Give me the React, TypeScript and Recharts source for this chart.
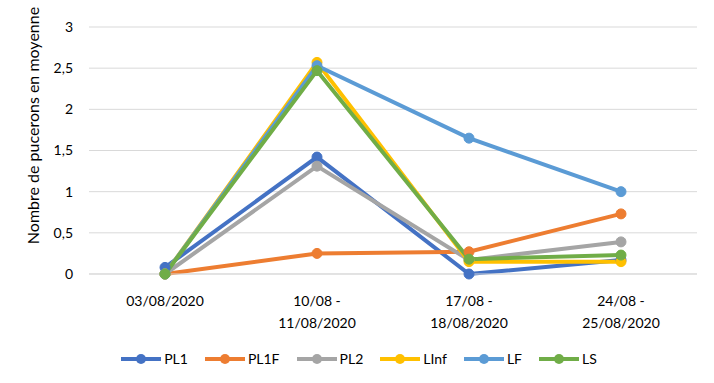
import { LineChart, Line, XAxis, YAxis, CartesianGrid, Legend } from "recharts";

const periods = ["03/08/2020", "10/08 -\n11/08/2020", "17/08 -\n18/08/2020", "24/08 -\n25/08/2020"];

const pl1 = [0.08, 1.42, 0.0, 0.17];
const pl1f = [0.0, 0.25, 0.27, 0.73];
const pl2 = [0.0, 1.31, 0.17, 0.39];
const linf = [0.0, 2.57, 0.15, 0.15];
const lf = [0.0, 2.53, 1.65, 1.0];
const ls = [0.0, 2.47, 0.18, 0.23];

const yTicks = [0, 0.5, 1, 1.5, 2, 2.5, 3];

const series = [
  { key: "PL1", values: pl1, color: "#4472C4" },
  { key: "PL1F", values: pl1f, color: "#ED7D31" },
  { key: "PL2", values: pl2, color: "#A5A5A5" },
  { key: "LInf", values: linf, color: "#FFC000" },
  { key: "LF", values: lf, color: "#5B9BD5" },
  { key: "LS", values: ls, color: "#70AD47" },
];

const data = periods.map((p, i) => {
  const row: Record<string, string | number> = { period: p };
  series.forEach((s) => (row[s.key] = s.values[i]));
  return row;
});

const FONT = "Lato, 'Liberation Sans', sans-serif";

// eslint-disable-next-line @typescript-eslint/no-explicit-any
function PeriodTick({ x, y, payload }: any) {
  const lines = String(payload.value).split("\n");
  return (
    <text x={x} y={y} textAnchor="middle" fontFamily={FONT} fontSize={14} fill="#000">
      {lines.map((l, i) => (
        <tspan key={i} x={x} dy={i === 0 ? 24 : 22}>{l}</tspan>
      ))}
    </text>
  );
}

function LegendContent() {
  return (
    <div style={{ display: "flex", justifyContent: "center", gap: 16, fontFamily: FONT, fontSize: 14, color: "#000", paddingLeft: 20 }}>
      {series.map((s) => (
        <div key={s.key} style={{ display: "flex", alignItems: "center" }}>
          <svg width={42} height={12} style={{ marginRight: 2 }}>
            <line x1={1} y1={6} x2={41} y2={6} stroke={s.color} strokeWidth={4} />
            <circle cx={21} cy={6} r={5} fill={s.color} />
          </svg>
          <span>{s.key}</span>
        </div>
      ))}
    </div>
  );
}

export default function App() {
  return (
    <div>
      <style>{"body{margin:0;background:#fff}"}</style>
      <LineChart width={714} height={383} data={data} margin={{ top: 27, right: 17, left: 0, bottom: 0 }}>
        <CartesianGrid vertical={false} stroke="#d9d9d9" strokeWidth={1} />
        <XAxis
          dataKey="period"
          tick={<PeriodTick />}
          tickLine={false}
          axisLine={{ stroke: "#d9d9d9" }}
          height={76}
          interval={0}
          padding={{ left: 76, right: 76 }}
        />
        <YAxis
          domain={[0, 3]}
          ticks={yTicks}
          width={89}
          tickLine={false}
          axisLine={false}
          tickSize={0}
          tickMargin={16}
          tick={{ fontFamily: FONT, fontSize: 14, fill: "#000" }}
          tickFormatter={(v) => String(v).replace(".", ",")}
          label={{
            value: "Nombre de pucerons en moyenne",
            angle: -90,
            position: "insideLeft",
            dx: 28,
            dy: -25,
            style: { fontFamily: FONT, fontSize: 16, fill: "#000", textAnchor: "middle" },
          }}
        />
        <Legend verticalAlign="bottom" height={33} content={<LegendContent />} />
        {series.map((s) => (
          <Line
            key={s.key}
            dataKey={s.key}
            stroke={s.color}
            strokeWidth={4}
            dot={{ r: 5, fill: s.color, stroke: s.color, strokeWidth: 1 }}
            isAnimationActive={false}
          />
        ))}
      </LineChart>
    </div>
  );
}
